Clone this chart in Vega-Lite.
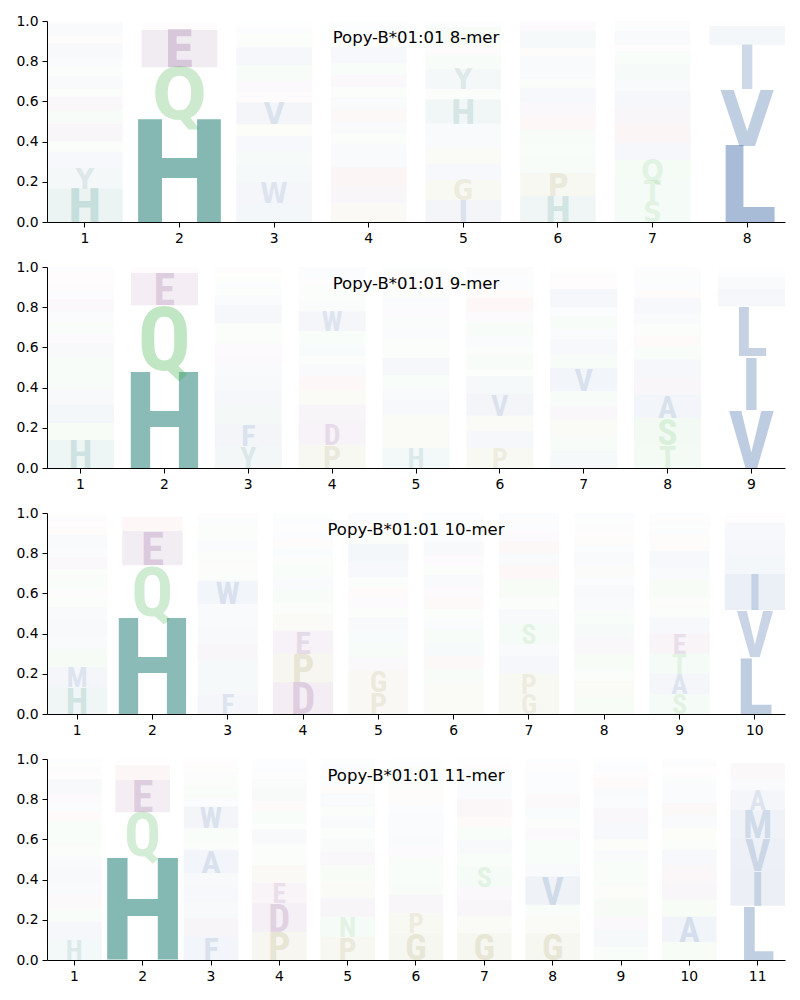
{
"$schema": "https://vega.github.io/schema/vega-lite/v6.json",
"padding": {"left": 15, "top": 14, "right": 14, "bottom": 5},
"spacing": 10,
"config": {
  "view": {"stroke": null},
  "font": "DejaVu Sans",
  "axis": {"domainColor": "black", "tickColor": "black", "labelColor": "black", "labelFont": "DejaVu Sans", "labelFontSize": 13.9, "tickSize": 5, "labelPadding": 4, "grid": false, "title": null, "domainWidth": 1, "tickWidth": 1},
  "title": {"font": "DejaVu Sans", "fontSize": 16.5, "fontWeight": "normal", "color": "black", "anchor": "middle"}
},
"datasets": {
"m8": [
{"p":1,"a":"H","f":0.166},{"p":1,"a":"Y","f":0.104},{"p":1,"a":"F","f":0.08},{"p":1,"a":"S","f":0.05},{"p":1,"a":"D","f":0.09},{"p":1,"a":"N","f":0.067},{"p":1,"a":"E","f":0.067},{"p":1,"a":"T","f":0.04},{"p":1,"a":"M","f":0.06},{"p":1,"a":"Q","f":0.05},{"p":1,"a":"I","f":0.044},{"p":1,"a":"V","f":0.07},{"p":1,"a":"R","f":0.04},{"p":1,"a":"A","f":0.06},{"p":1,"a":"K","f":0.012},
{"p":2,"a":"H","f":0.51},{"p":2,"a":"Q","f":0.26},{"p":2,"a":"E","f":0.185},{"p":2,"a":"R","f":0.035},{"p":2,"a":"K","f":0.005},{"p":2,"a":"N","f":0.005},
{"p":3,"a":"F","f":0.095},{"p":3,"a":"W","f":0.1},{"p":3,"a":"Y","f":0.083},{"p":3,"a":"H","f":0.075},{"p":3,"a":"I","f":0.075},{"p":3,"a":"P","f":0.058},{"p":3,"a":"V","f":0.108},{"p":3,"a":"C","f":0.05},{"p":3,"a":"D","f":0.057},{"p":3,"a":"N","f":0.08},{"p":3,"a":"M","f":0.087},{"p":3,"a":"T","f":0.04},{"p":3,"a":"S","f":0.03},{"p":3,"a":"A","f":0.03},{"p":3,"a":"Q","f":0.02},{"p":3,"a":"L","f":0.012},
{"p":4,"a":"P","f":0.095},{"p":4,"a":"E","f":0.083},{"p":4,"a":"K","f":0.092},{"p":4,"a":"L","f":0.065},{"p":4,"a":"A","f":0.055},{"p":4,"a":"Q","f":0.05},{"p":4,"a":"V","f":0.06},{"p":4,"a":"R","f":0.06},{"p":4,"a":"I","f":0.06},{"p":4,"a":"T","f":0.05},{"p":4,"a":"D","f":0.06},{"p":4,"a":"N","f":0.06},{"p":4,"a":"F","f":0.08},{"p":4,"a":"S","f":0.03},{"p":4,"a":"G","f":0.03},{"p":4,"a":"Y","f":0.03},{"p":4,"a":"M","f":0.02},{"p":4,"a":"H","f":0.02},
{"p":5,"a":"I","f":0.11},{"p":5,"a":"G","f":0.1},{"p":5,"a":"V","f":0.08},{"p":5,"a":"P","f":0.08},{"p":5,"a":"F","f":0.06},{"p":5,"a":"A","f":0.06},{"p":5,"a":"H","f":0.12},{"p":5,"a":"S","f":0.05},{"p":5,"a":"Y","f":0.1},{"p":5,"a":"T","f":0.07},{"p":5,"a":"C","f":0.05},{"p":5,"a":"N","f":0.09},{"p":5,"a":"M","f":0.02},{"p":5,"a":"L","f":0.01},
{"p":6,"a":"H","f":0.128},{"p":6,"a":"P","f":0.116},{"p":6,"a":"T","f":0.076},{"p":6,"a":"Q","f":0.065},{"p":6,"a":"N","f":0.075},{"p":6,"a":"R","f":0.067},{"p":6,"a":"E","f":0.066},{"p":6,"a":"V","f":0.075},{"p":6,"a":"S","f":0.042},{"p":6,"a":"A","f":0.057},{"p":6,"a":"I","f":0.059},{"p":6,"a":"K","f":0.041},{"p":6,"a":"Y","f":0.083},{"p":6,"a":"D","f":0.05},
{"p":7,"a":"S","f":0.103},{"p":7,"a":"T","f":0.1},{"p":7,"a":"Q","f":0.107},{"p":7,"a":"V","f":0.084},{"p":7,"a":"K","f":0.091},{"p":7,"a":"E","f":0.083},{"p":7,"a":"A","f":0.083},{"p":7,"a":"I","f":0.058},{"p":7,"a":"H","f":0.075},{"p":7,"a":"N","f":0.066},{"p":7,"a":"R","f":0.03},{"p":7,"a":"M","f":0.066},{"p":7,"a":"F","f":0.03},{"p":7,"a":"D","f":0.024},
{"p":8,"a":"L","f":0.38},{"p":8,"a":"V","f":0.28},{"p":8,"a":"I","f":0.22},{"p":8,"a":"M","f":0.095},{"p":8,"a":"A","f":0.015},{"p":8,"a":"F","f":0.01}
],
"m9": [
{"p":1,"a":"H","f":0.14},{"p":1,"a":"S","f":0.084},{"p":1,"a":"M","f":0.091},{"p":1,"a":"Y","f":0.075},{"p":1,"a":"N","f":0.08},{"p":1,"a":"T","f":0.08},{"p":1,"a":"F","f":0.07},{"p":1,"a":"E","f":0.05},{"p":1,"a":"Q","f":0.06},{"p":1,"a":"A","f":0.05},{"p":1,"a":"D","f":0.06},{"p":1,"a":"I","f":0.04},{"p":1,"a":"C","f":0.04},{"p":1,"a":"K","f":0.03},{"p":1,"a":"R","f":0.03},{"p":1,"a":"W","f":0.02},
{"p":2,"a":"H","f":0.49},{"p":2,"a":"Q","f":0.32},{"p":2,"a":"E","f":0.16},{"p":2,"a":"R","f":0.03},
{"p":3,"a":"Y","f":0.108},{"p":3,"a":"F","f":0.108},{"p":3,"a":"H","f":0.091},{"p":3,"a":"M","f":0.083},{"p":3,"a":"I","f":0.067},{"p":3,"a":"V","f":0.058},{"p":3,"a":"D","f":0.058},{"p":3,"a":"E","f":0.047},{"p":3,"a":"N","f":0.05},{"p":3,"a":"T","f":0.05},{"p":3,"a":"W","f":0.09},{"p":3,"a":"L","f":0.05},{"p":3,"a":"S","f":0.03},{"p":3,"a":"A","f":0.03},{"p":3,"a":"Q","f":0.03},{"p":3,"a":"G","f":0.02},{"p":3,"a":"K","f":0.03},
{"p":4,"a":"P","f":0.116},{"p":4,"a":"D","f":0.108},{"p":4,"a":"E","f":0.091},{"p":4,"a":"G","f":0.075},{"p":4,"a":"K","f":0.067},{"p":4,"a":"A","f":0.058},{"p":4,"a":"S","f":0.041},{"p":4,"a":"H","f":0.058},{"p":4,"a":"N","f":0.066},{"p":4,"a":"W","f":0.1},{"p":4,"a":"Y","f":0.05},{"p":4,"a":"T","f":0.04},{"p":4,"a":"Q","f":0.04},{"p":4,"a":"R","f":0.03},{"p":4,"a":"M","f":0.03},{"p":4,"a":"V","f":0.03},
{"p":5,"a":"H","f":0.1},{"p":5,"a":"P","f":0.09},{"p":5,"a":"G","f":0.075},{"p":5,"a":"V","f":0.075},{"p":5,"a":"I","f":0.058},{"p":5,"a":"N","f":0.066},{"p":5,"a":"A","f":0.083},{"p":5,"a":"T","f":0.05},{"p":5,"a":"S","f":0.05},{"p":5,"a":"M","f":0.05},{"p":5,"a":"Y","f":0.05},{"p":5,"a":"E","f":0.05},{"p":5,"a":"L","f":0.05},{"p":5,"a":"Q","f":0.04},{"p":5,"a":"R","f":0.04},{"p":5,"a":"K","f":0.03},{"p":5,"a":"D","f":0.03},{"p":5,"a":"F","f":0.013},
{"p":6,"a":"P","f":0.1},{"p":6,"a":"I","f":0.083},{"p":6,"a":"G","f":0.077},{"p":6,"a":"V","f":0.11},{"p":6,"a":"H","f":0.087},{"p":6,"a":"T","f":0.033},{"p":6,"a":"Q","f":0.075},{"p":6,"a":"S","f":0.041},{"p":6,"a":"L","f":0.05},{"p":6,"a":"N","f":0.074},{"p":6,"a":"E","f":0.05},{"p":6,"a":"R","f":0.067},{"p":6,"a":"K","f":0.04},{"p":6,"a":"A","f":0.04},{"p":6,"a":"M","f":0.04},{"p":6,"a":"D","f":0.033},
{"p":7,"a":"H","f":0.083},{"p":7,"a":"T","f":0.075},{"p":7,"a":"P","f":0.082},{"p":7,"a":"E","f":0.067},{"p":7,"a":"N","f":0.075},{"p":7,"a":"V","f":0.116},{"p":7,"a":"Q","f":0.067},{"p":7,"a":"A","f":0.075},{"p":7,"a":"I","f":0.05},{"p":7,"a":"S","f":0.067},{"p":7,"a":"L","f":0.043},{"p":7,"a":"M","f":0.09},{"p":7,"a":"R","f":0.03},{"p":7,"a":"K","f":0.03},{"p":7,"a":"D","f":0.02},{"p":7,"a":"G","f":0.02},{"p":7,"a":"F","f":0.01},
{"p":8,"a":"T","f":0.116},{"p":8,"a":"S","f":0.134},{"p":8,"a":"A","f":0.115},{"p":8,"a":"E","f":0.085},{"p":8,"a":"V","f":0.09},{"p":8,"a":"Q","f":0.066},{"p":8,"a":"R","f":0.05},{"p":8,"a":"N","f":0.058},{"p":8,"a":"L","f":0.056},{"p":8,"a":"M","f":0.077},{"p":8,"a":"K","f":0.04},{"p":8,"a":"I","f":0.04},{"p":8,"a":"H","f":0.03},{"p":8,"a":"D","f":0.02},{"p":8,"a":"F","f":0.023},
{"p":9,"a":"V","f":0.29},{"p":9,"a":"I","f":0.265},{"p":9,"a":"L","f":0.25},{"p":9,"a":"A","f":0.085},{"p":9,"a":"M","f":0.06},{"p":9,"a":"F","f":0.02},{"p":9,"a":"C","f":0.015},{"p":9,"a":"T","f":0.015}
],
"m10": [
{"p":1,"a":"H","f":0.133},{"p":1,"a":"M","f":0.1},{"p":1,"a":"S","f":0.091},{"p":1,"a":"F","f":0.066},{"p":1,"a":"Y","f":0.075},{"p":1,"a":"A","f":0.065},{"p":1,"a":"Q","f":0.05},{"p":1,"a":"C","f":0.04},{"p":1,"a":"N","f":0.06},{"p":1,"a":"T","f":0.04},{"p":1,"a":"E","f":0.06},{"p":1,"a":"I","f":0.05},{"p":1,"a":"W","f":0.06},{"p":1,"a":"R","f":0.04},{"p":1,"a":"K","f":0.03},{"p":1,"a":"D","f":0.02},{"p":1,"a":"G","f":0.02},
{"p":2,"a":"H","f":0.49},{"p":2,"a":"Q","f":0.25},{"p":2,"a":"E","f":0.17},{"p":2,"a":"R","f":0.07},{"p":2,"a":"K","f":0.01},{"p":2,"a":"N","f":0.01},
{"p":3,"a":"F","f":0.1},{"p":3,"a":"Y","f":0.083},{"p":3,"a":"H","f":0.083},{"p":3,"a":"D","f":0.084},{"p":3,"a":"A","f":0.074},{"p":3,"a":"I","f":0.066},{"p":3,"a":"V","f":0.058},{"p":3,"a":"W","f":0.116},{"p":3,"a":"N","f":0.05},{"p":3,"a":"G","f":0.05},{"p":3,"a":"Q","f":0.05},{"p":3,"a":"L","f":0.05},{"p":3,"a":"T","f":0.04},{"p":3,"a":"S","f":0.04},{"p":3,"a":"M","f":0.03},{"p":3,"a":"K","f":0.026},
{"p":4,"a":"D","f":0.158},{"p":4,"a":"P","f":0.142},{"p":4,"a":"E","f":0.115},{"p":4,"a":"G","f":0.083},{"p":4,"a":"S","f":0.058},{"p":4,"a":"Q","f":0.067},{"p":4,"a":"A","f":0.057},{"p":4,"a":"N","f":0.06},{"p":4,"a":"T","f":0.04},{"p":4,"a":"H","f":0.05},{"p":4,"a":"K","f":0.04},{"p":4,"a":"V","f":0.04},{"p":4,"a":"R","f":0.03},{"p":4,"a":"L","f":0.03},{"p":4,"a":"Y","f":0.03},
{"p":5,"a":"P","f":0.108},{"p":5,"a":"G","f":0.108},{"p":5,"a":"D","f":0.066},{"p":5,"a":"N","f":0.075},{"p":5,"a":"H","f":0.058},{"p":5,"a":"A","f":0.067},{"p":5,"a":"S","f":0.048},{"p":5,"a":"E","f":0.05},{"p":5,"a":"K","f":0.05},{"p":5,"a":"T","f":0.05},{"p":5,"a":"M","f":0.076},{"p":5,"a":"W","f":0.091},{"p":5,"a":"Q","f":0.05},{"p":5,"a":"R","f":0.03},{"p":5,"a":"Y","f":0.02},{"p":5,"a":"V","f":0.023},{"p":5,"a":"I","f":0.03},
{"p":6,"a":"P","f":0.075},{"p":6,"a":"G","f":0.075},{"p":6,"a":"N","f":0.074},{"p":6,"a":"K","f":0.066},{"p":6,"a":"H","f":0.067},{"p":6,"a":"S","f":0.067},{"p":6,"a":"I","f":0.05},{"p":6,"a":"T","f":0.049},{"p":6,"a":"R","f":0.057},{"p":6,"a":"E","f":0.05},{"p":6,"a":"V","f":0.06},{"p":6,"a":"Q","f":0.05},{"p":6,"a":"D","f":0.05},{"p":6,"a":"A","f":0.067},{"p":6,"a":"L","f":0.04},{"p":6,"a":"M","f":0.03},{"p":6,"a":"Y","f":0.028},{"p":6,"a":"W","f":0.025},{"p":6,"a":"F","f":0.02},
{"p":7,"a":"G","f":0.1},{"p":7,"a":"P","f":0.1},{"p":7,"a":"A","f":0.09},{"p":7,"a":"Y","f":0.06},{"p":7,"a":"S","f":0.1},{"p":7,"a":"L","f":0.073},{"p":7,"a":"T","f":0.057},{"p":7,"a":"N","f":0.09},{"p":7,"a":"K","f":0.07},{"p":7,"a":"M","f":0.06},{"p":7,"a":"R","f":0.06},{"p":7,"a":"E","f":0.05},{"p":7,"a":"V","f":0.03},{"p":7,"a":"D","f":0.03},{"p":7,"a":"I","f":0.03},
{"p":8,"a":"N","f":0.083},{"p":8,"a":"P","f":0.083},{"p":8,"a":"T","f":0.05},{"p":8,"a":"S","f":0.084},{"p":8,"a":"E","f":0.074},{"p":8,"a":"H","f":0.075},{"p":8,"a":"Q","f":0.066},{"p":8,"a":"I","f":0.058},{"p":8,"a":"V","f":0.067},{"p":8,"a":"A","f":0.04},{"p":8,"a":"G","f":0.06},{"p":8,"a":"M","f":0.066},{"p":8,"a":"L","f":0.034},{"p":8,"a":"R","f":0.04},{"p":8,"a":"K","f":0.03},{"p":8,"a":"D","f":0.03},{"p":8,"a":"Y","f":0.03},{"p":8,"a":"F","f":0.03},
{"p":9,"a":"S","f":0.1},{"p":9,"a":"A","f":0.1},{"p":9,"a":"T","f":0.1},{"p":9,"a":"E","f":0.1},{"p":9,"a":"V","f":0.08},{"p":9,"a":"Q","f":0.05},{"p":9,"a":"G","f":0.05},{"p":9,"a":"N","f":0.09},{"p":9,"a":"L","f":0.06},{"p":9,"a":"M","f":0.08},{"p":9,"a":"K","f":0.04},{"p":9,"a":"R","f":0.04},{"p":9,"a":"I","f":0.03},{"p":9,"a":"H","f":0.02},{"p":9,"a":"D","f":0.02},{"p":9,"a":"Y","f":0.02},{"p":9,"a":"F","f":0.02},
{"p":10,"a":"L","f":0.282},{"p":10,"a":"V","f":0.235},{"p":10,"a":"I","f":0.18},{"p":10,"a":"M","f":0.095},{"p":10,"a":"A","f":0.085},{"p":10,"a":"F","f":0.075},{"p":10,"a":"C","f":0.03},{"p":10,"a":"T","f":0.018}
],
"m11": [
{"p":1,"a":"H","f":0.1},{"p":1,"a":"M","f":0.09},{"p":1,"a":"S","f":0.06},{"p":1,"a":"C","f":0.074},{"p":1,"a":"Y","f":0.066},{"p":1,"a":"A","f":0.067},{"p":1,"a":"F","f":0.058},{"p":1,"a":"T","f":0.05},{"p":1,"a":"N","f":0.065},{"p":1,"a":"Q","f":0.06},{"p":1,"a":"R","f":0.05},{"p":1,"a":"I","f":0.04},{"p":1,"a":"E","f":0.05},{"p":1,"a":"W","f":0.07},{"p":1,"a":"K","f":0.03},{"p":1,"a":"D","f":0.03},{"p":1,"a":"G","f":0.02},{"p":1,"a":"V","f":0.02},
{"p":2,"a":"H","f":0.515},{"p":2,"a":"Q","f":0.22},{"p":2,"a":"E","f":0.16},{"p":2,"a":"R","f":0.075},{"p":2,"a":"K","f":0.015},{"p":2,"a":"N","f":0.015},
{"p":3,"a":"F","f":0.116},{"p":3,"a":"D","f":0.092},{"p":3,"a":"Y","f":0.082},{"p":3,"a":"M","f":0.075},{"p":3,"a":"I","f":0.067},{"p":3,"a":"A","f":0.116},{"p":3,"a":"S","f":0.042},{"p":3,"a":"Q","f":0.066},{"p":3,"a":"W","f":0.108},{"p":3,"a":"L","f":0.04},{"p":3,"a":"T","f":0.06},{"p":3,"a":"N","f":0.04},{"p":3,"a":"E","f":0.03},{"p":3,"a":"G","f":0.03},{"p":3,"a":"R","f":0.02},{"p":3,"a":"K","f":0.016},
{"p":4,"a":"P","f":0.141},{"p":4,"a":"D","f":0.141},{"p":4,"a":"E","f":0.1},{"p":4,"a":"G","f":0.091},{"p":4,"a":"Q","f":0.057},{"p":4,"a":"S","f":0.05},{"p":4,"a":"A","f":0.068},{"p":4,"a":"T","f":0.032},{"p":4,"a":"N","f":0.06},{"p":4,"a":"K","f":0.05},{"p":4,"a":"Y","f":0.07},{"p":4,"a":"H","f":0.04},{"p":4,"a":"R","f":0.03},{"p":4,"a":"V","f":0.03},{"p":4,"a":"L","f":0.02},{"p":4,"a":"I","f":0.02},
{"p":5,"a":"P","f":0.116},{"p":5,"a":"N","f":0.1},{"p":5,"a":"D","f":0.091},{"p":5,"a":"G","f":0.083},{"p":5,"a":"S","f":0.083},{"p":5,"a":"E","f":0.067},{"p":5,"a":"H","f":0.066},{"p":5,"a":"T","f":0.05},{"p":5,"a":"A","f":0.058},{"p":5,"a":"Q","f":0.05},{"p":5,"a":"V","f":0.066},{"p":5,"a":"K","f":0.04},{"p":5,"a":"I","f":0.04},{"p":5,"a":"R","f":0.03},{"p":5,"a":"M","f":0.03},{"p":5,"a":"Y","f":0.03},
{"p":6,"a":"G","f":0.133},{"p":6,"a":"P","f":0.1},{"p":6,"a":"D","f":0.09},{"p":6,"a":"S","f":0.07},{"p":6,"a":"N","f":0.06},{"p":6,"a":"T","f":0.06},{"p":6,"a":"E","f":0.05},{"p":6,"a":"A","f":0.066},{"p":6,"a":"L","f":0.05},{"p":6,"a":"V","f":0.05},{"p":6,"a":"I","f":0.04},{"p":6,"a":"K","f":0.04},{"p":6,"a":"R","f":0.04},{"p":6,"a":"Q","f":0.04},{"p":6,"a":"Y","f":0.03},{"p":6,"a":"M","f":0.03},{"p":6,"a":"H","f":0.02},{"p":6,"a":"F","f":0.021},{"p":6,"a":"W","f":0.01},
{"p":7,"a":"G","f":0.133},{"p":7,"a":"P","f":0.083},{"p":7,"a":"D","f":0.084},{"p":7,"a":"E","f":0.065},{"p":7,"a":"S","f":0.1},{"p":7,"a":"N","f":0.065},{"p":7,"a":"A","f":0.07},{"p":7,"a":"Q","f":0.065},{"p":7,"a":"K","f":0.049},{"p":7,"a":"C","f":0.086},{"p":7,"a":"I","f":0.05},{"p":7,"a":"H","f":0.05},{"p":7,"a":"M","f":0.05},{"p":7,"a":"R","f":0.02},{"p":7,"a":"T","f":0.02},{"p":7,"a":"Y","f":0.01},
{"p":8,"a":"G","f":0.133},{"p":8,"a":"P","f":0.083},{"p":8,"a":"S","f":0.059},{"p":8,"a":"V","f":0.14},{"p":8,"a":"I","f":0.065},{"p":8,"a":"N","f":0.06},{"p":8,"a":"T","f":0.06},{"p":8,"a":"D","f":0.056},{"p":8,"a":"Q","f":0.05},{"p":8,"a":"H","f":0.05},{"p":8,"a":"C","f":0.074},{"p":8,"a":"L","f":0.04},{"p":8,"a":"M","f":0.04},{"p":8,"a":"F","f":0.03},{"p":8,"a":"K","f":0.02},{"p":8,"a":"R","f":0.02},{"p":8,"a":"A","f":0.02},
{"p":9,"a":"T","f":0.066},{"p":9,"a":"H","f":0.084},{"p":9,"a":"E","f":0.066},{"p":9,"a":"N","f":0.091},{"p":9,"a":"G","f":0.058},{"p":9,"a":"Q","f":0.059},{"p":9,"a":"S","f":0.066},{"p":9,"a":"I","f":0.058},{"p":9,"a":"P","f":0.052},{"p":9,"a":"V","f":0.08},{"p":9,"a":"D","f":0.076},{"p":9,"a":"L","f":0.044},{"p":9,"a":"M","f":0.056},{"p":9,"a":"R","f":0.05},{"p":9,"a":"K","f":0.03},{"p":9,"a":"A","f":0.03},{"p":9,"a":"F","f":0.02},{"p":9,"a":"Y","f":0.014},
{"p":10,"a":"T","f":0.09},{"p":10,"a":"A","f":0.126},{"p":10,"a":"S","f":0.084},{"p":10,"a":"E","f":0.09},{"p":10,"a":"C","f":0.083},{"p":10,"a":"V","f":0.075},{"p":10,"a":"Q","f":0.052},{"p":10,"a":"G","f":0.056},{"p":10,"a":"M","f":0.064},{"p":10,"a":"K","f":0.06},{"p":10,"a":"L","f":0.05},{"p":10,"a":"I","f":0.05},{"p":10,"a":"H","f":0.03},{"p":10,"a":"R","f":0.03},{"p":10,"a":"N","f":0.02},{"p":10,"a":"D","f":0.02},{"p":10,"a":"F","f":0.02},
{"p":11,"a":"L","f":0.27},{"p":11,"a":"I","f":0.175},{"p":11,"a":"V","f":0.16},{"p":11,"a":"M","f":0.14},{"p":11,"a":"A","f":0.1},{"p":11,"a":"F","f":0.06},{"p":11,"a":"C","f":0.075},{"p":11,"a":"T","f":0.01},{"p":11,"a":"S","f":0.01}
]
},
"vconcat": [
{
 "title": {"text": "Popy-B*01:01 8-mer", "baseline": "alphabetic", "offset": -45},
 "width": 738, "height": 201,
 "data": {"name": "m8"},
 "transform": [{"stack": "f", "groupby": ["p"], "as": ["y0", "y1"]}],
 "encoding": {
  "x": {"field": "p", "type": "ordinal", "scale": {"paddingInner": 0.2, "paddingOuter": 0}, "axis": {"labelAngle": 0, "title": null}},
  "color": {"field": "a", "type": "nominal", "legend": null, "scale": {"domain": ["A","V","L","I","M","F","W","C","Y","H","S","T","N","Q","D","E","K","R","G","P"], "range": ["#1f5198","#1f5198","#1f5198","#1f5198","#1f5198","#1f5198","#1f5198","#a04a78","#2c6e78","#12766c","#42b24a","#42b24a","#42b24a","#42b24a","#6d2778","#6d2778","#c82020","#c82020","#8c8230","#8c8230"]}}
 },
 "layer": [
  {"transform": [{"filter": "datum.f < 0.2"}], "mark": {"type": "rect"},
   "encoding": {"y": {"field": "y0", "type": "quantitative", "scale": {"domain": [0, 1]}, "axis": {"values": [0, 0.2, 0.4, 0.6, 0.8, 1], "format": ".1f", "title": null}}, "y2": {"field": "y1"},
    "fillOpacity": {"field": "f", "type": "quantitative", "scale": {"domain": [0, 1], "range": [0, 0.5]}, "legend": null}}},
  {"transform": [{"filter": "datum.f >= 0.1"}], "mark": {"type": "text", "font": "DejaVu Sans Condensed, DejaVu Sans", "fontWeight": "bold", "baseline": "alphabetic", "align": "center"},
   "encoding": {"text": {"field": "a"}, "y": {"field": "y0", "type": "quantitative", "scale": {"domain": [0, 1]}},
    "size": {"field": "f", "type": "quantitative", "scale": {"domain": [0, 1], "range": [0, 276]}, "legend": null},
    "opacity": {"field": "f", "type": "quantitative", "scale": {"domain": [0, 1], "range": [0, 1]}, "legend": null}}}
 ]
},
{
 "title": {"text": "Popy-B*01:01 9-mer", "baseline": "alphabetic", "offset": -45},
 "width": 738, "height": 201,
 "data": {"name": "m9"},
 "transform": [{"stack": "f", "groupby": ["p"], "as": ["y0", "y1"]}],
 "encoding": {
  "x": {"field": "p", "type": "ordinal", "scale": {"paddingInner": 0.2, "paddingOuter": 0}, "axis": {"labelAngle": 0, "title": null}},
  "color": {"field": "a", "type": "nominal", "legend": null, "scale": {"domain": ["A","V","L","I","M","F","W","C","Y","H","S","T","N","Q","D","E","K","R","G","P"], "range": ["#1f5198","#1f5198","#1f5198","#1f5198","#1f5198","#1f5198","#1f5198","#a04a78","#2c6e78","#12766c","#42b24a","#42b24a","#42b24a","#42b24a","#6d2778","#6d2778","#c82020","#c82020","#8c8230","#8c8230"]}}
 },
 "layer": [
  {"transform": [{"filter": "datum.f < 0.2"}], "mark": {"type": "rect"},
   "encoding": {"y": {"field": "y0", "type": "quantitative", "scale": {"domain": [0, 1]}, "axis": {"values": [0, 0.2, 0.4, 0.6, 0.8, 1], "format": ".1f", "title": null}}, "y2": {"field": "y1"},
    "fillOpacity": {"field": "f", "type": "quantitative", "scale": {"domain": [0, 1], "range": [0, 0.5]}, "legend": null}}},
  {"transform": [{"filter": "datum.f >= 0.1"}], "mark": {"type": "text", "font": "Roboto Condensed, DejaVu Sans", "fontWeight": "bold", "baseline": "alphabetic", "align": "center"},
   "encoding": {"text": {"field": "a"}, "y": {"field": "y0", "type": "quantitative", "scale": {"domain": [0, 1]}},
    "size": {"field": "f", "type": "quantitative", "scale": {"domain": [0, 1], "range": [0, 284]}, "legend": null},
    "opacity": {"field": "f", "type": "quantitative", "scale": {"domain": [0, 1], "range": [0, 1]}, "legend": null}}}
 ]
},
{
 "title": {"text": "Popy-B*01:01 10-mer", "baseline": "alphabetic", "offset": -45},
 "width": 738, "height": 201,
 "data": {"name": "m10"},
 "transform": [{"stack": "f", "groupby": ["p"], "as": ["y0", "y1"]}],
 "encoding": {
  "x": {"field": "p", "type": "ordinal", "scale": {"paddingInner": 0.2, "paddingOuter": 0}, "axis": {"labelAngle": 0, "title": null}},
  "color": {"field": "a", "type": "nominal", "legend": null, "scale": {"domain": ["A","V","L","I","M","F","W","C","Y","H","S","T","N","Q","D","E","K","R","G","P"], "range": ["#1f5198","#1f5198","#1f5198","#1f5198","#1f5198","#1f5198","#1f5198","#a04a78","#2c6e78","#12766c","#42b24a","#42b24a","#42b24a","#42b24a","#6d2778","#6d2778","#c82020","#c82020","#8c8230","#8c8230"]}}
 },
 "layer": [
  {"transform": [{"filter": "datum.f < 0.2"}], "mark": {"type": "rect"},
   "encoding": {"y": {"field": "y0", "type": "quantitative", "scale": {"domain": [0, 1]}, "axis": {"values": [0, 0.2, 0.4, 0.6, 0.8, 1], "format": ".1f", "title": null}}, "y2": {"field": "y1"},
    "fillOpacity": {"field": "f", "type": "quantitative", "scale": {"domain": [0, 1], "range": [0, 0.5]}, "legend": null}}},
  {"transform": [{"filter": "datum.f >= 0.1"}], "mark": {"type": "text", "font": "Roboto Condensed, DejaVu Sans", "fontWeight": "bold", "baseline": "alphabetic", "align": "center"},
   "encoding": {"text": {"field": "a"}, "y": {"field": "y0", "type": "quantitative", "scale": {"domain": [0, 1]}},
    "size": {"field": "f", "type": "quantitative", "scale": {"domain": [0, 1], "range": [0, 284]}, "legend": null},
    "opacity": {"field": "f", "type": "quantitative", "scale": {"domain": [0, 1], "range": [0, 1]}, "legend": null}}}
 ]
},
{
 "title": {"text": "Popy-B*01:01 11-mer", "baseline": "alphabetic", "offset": -45},
 "width": 738, "height": 201,
 "data": {"name": "m11"},
 "transform": [{"stack": "f", "groupby": ["p"], "as": ["y0", "y1"]}],
 "encoding": {
  "x": {"field": "p", "type": "ordinal", "scale": {"paddingInner": 0.2, "paddingOuter": 0}, "axis": {"labelAngle": 0, "title": null}},
  "color": {"field": "a", "type": "nominal", "legend": null, "scale": {"domain": ["A","V","L","I","M","F","W","C","Y","H","S","T","N","Q","D","E","K","R","G","P"], "range": ["#1f5198","#1f5198","#1f5198","#1f5198","#1f5198","#1f5198","#1f5198","#a04a78","#2c6e78","#12766c","#42b24a","#42b24a","#42b24a","#42b24a","#6d2778","#6d2778","#c82020","#c82020","#8c8230","#8c8230"]}}
 },
 "layer": [
  {"transform": [{"filter": "datum.f < 0.2"}], "mark": {"type": "rect"},
   "encoding": {"y": {"field": "y0", "type": "quantitative", "scale": {"domain": [0, 1]}, "axis": {"values": [0, 0.2, 0.4, 0.6, 0.8, 1], "format": ".1f", "title": null}}, "y2": {"field": "y1"},
    "fillOpacity": {"field": "f", "type": "quantitative", "scale": {"domain": [0, 1], "range": [0, 0.5]}, "legend": null}}},
  {"transform": [{"filter": "datum.f >= 0.1"}], "mark": {"type": "text", "font": "Roboto Condensed, DejaVu Sans", "fontWeight": "bold", "baseline": "alphabetic", "align": "center"},
   "encoding": {"text": {"field": "a"}, "y": {"field": "y0", "type": "quantitative", "scale": {"domain": [0, 1]}},
    "size": {"field": "f", "type": "quantitative", "scale": {"domain": [0, 1], "range": [0, 284]}, "legend": null},
    "opacity": {"field": "f", "type": "quantitative", "scale": {"domain": [0, 1], "range": [0, 1]}, "legend": null}}}
 ]
}
]
}
